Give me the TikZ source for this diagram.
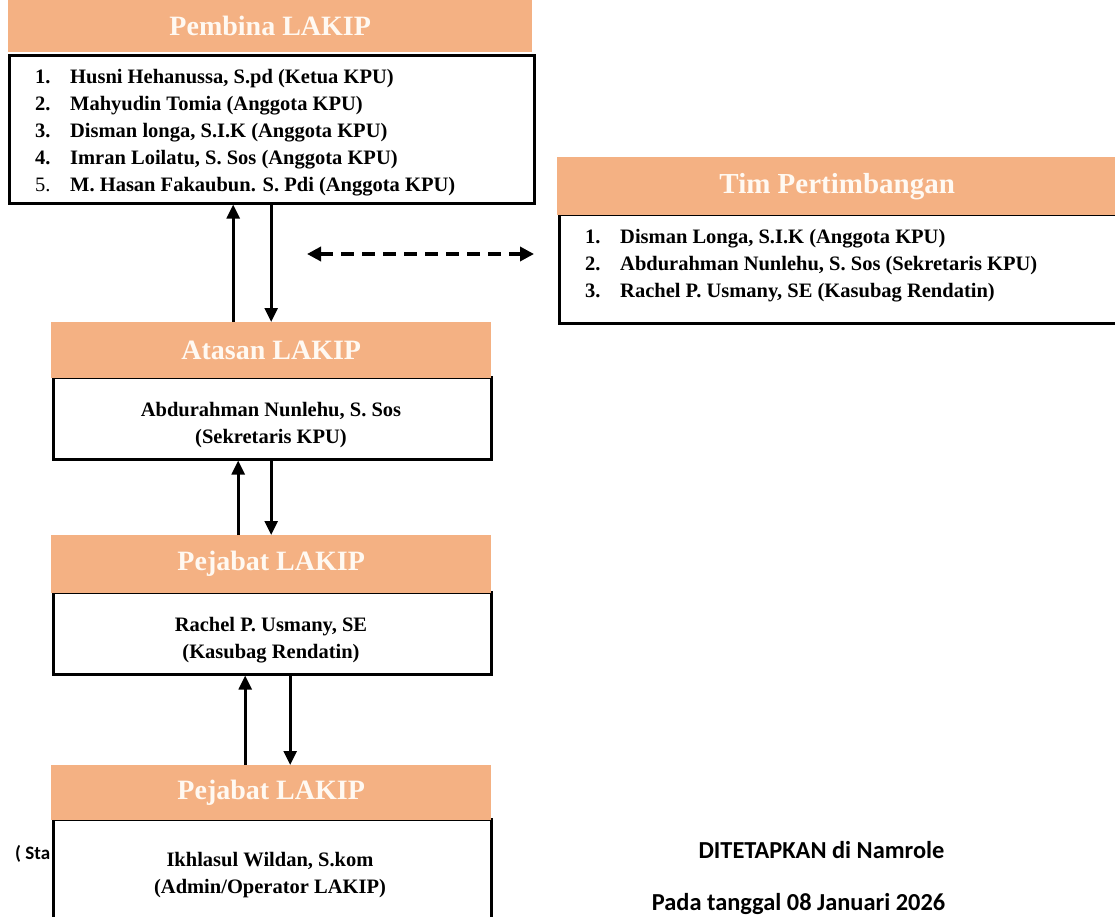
\documentclass[tikz,border=0pt]{standalone}
\usepackage{fontspec}
\setmainfont{Liberation Serif}
\newfontfamily\calfont{Carlito}
\usetikzlibrary{arrows.meta}
\definecolor{hdrc}{HTML}{F4B183}
\definecolor{ttlc}{HTML}{FFF9F2}
\begin{document}
\begin{tikzpicture}[x=1pt,y=-1pt,
  hdr/.style={fill=hdrc, text=ttlc, inner sep=0pt, anchor=north west,
    font=\bfseries\fontsize{28}{30}\selectfont},
  bodybox/.style={draw, line width=2.6pt, inner sep=0pt, anchor=north west},
  txt/.style={inner sep=0pt, font=\bfseries\fontsize{20.5}{27}\selectfont},
  arr/.style={line width=2.6pt, -{Triangle[length=14pt,width=13pt]}},
  darr/.style={line width=3.4pt, dash pattern=on 13pt off 8pt,
    {Triangle[length=14pt,width=14pt]}-{Triangle[length=14pt,width=14pt]}},
  foot/.style={inner sep=0pt, anchor=base, font=\calfont\bfseries\fontsize{24.4}{28}\selectfont}
]
\useasboundingbox (0,0) rectangle (1115,917);
\fill[white] (0,0) rectangle (1115,917);

% ---------- texts ----------
\node[txt, anchor=north west] (pembT) at (35,64.6) {%
  \begin{tabular}{@{}p{35pt}@{}l@{}}
  1. & Husni Hehanussa, S.pd (Ketua KPU)\\
  2. & Mahyudin Tomia (Anggota KPU)\\
  3. & Disman longa, S.I.K (Anggota KPU)\\
  4. & Imran Loilatu, S. Sos (Anggota KPU)\\
  \mdseries 5. & M. Hasan Fakaubun. S. Pdi (Anggota KPU)
  \end{tabular}};
\node[txt, anchor=north west] (timT) at (585,224.6) {%
  \begin{tabular}{@{}p{35pt}@{}l@{}}
  1. & Disman Longa, S.I.K (Anggota KPU)\\
  2. & Abdurahman Nunlehu, S. Sos (Sekretaris KPU)\\
  3. & Rachel P. Usmany, SE (Kasubag Rendatin)
  \end{tabular}};
\node[txt] (atasanT) at (271,425) {%
  \begin{tabular}{@{}c@{}}Abdurahman Nunlehu, S. Sos\\(Sekretaris KPU)\end{tabular}};
\node[txt] (pejT) at (271,640) {%
  \begin{tabular}{@{}c@{}}Rachel P. Usmany, SE\\(Kasubag Rendatin)\end{tabular}};
\node[txt] (pej2T) at (270,875) {%
  \begin{tabular}{@{}c@{}}Ikhlasul Wildan, S.kom\\(Admin/Operator LAKIP)\end{tabular}};

% ---------- boxes ----------
\node[bodybox, minimum width=525pt, minimum height=148pt] (pembB) at (8,54) {};
\node[hdr, minimum width=524pt, minimum height=52pt] (pembH) at (8,0) {Pembina LAKIP};

\node[bodybox, minimum width=570pt, minimum height=109pt] (timB) at (558,213) {};
\node[hdr, minimum width=560pt, minimum height=58pt,
  font=\bfseries\fontsize{29}{31}\selectfont] (timH) at (557,157) {Tim Pertimbangan};

\node[bodybox, minimum width=438pt, minimum height=82pt] (atasanB) at (52,376) {};
\node[hdr, minimum width=440pt, minimum height=56pt] (atasanH) at (51,322) {Atasan LAKIP};

\node[bodybox, minimum width=438pt, minimum height=82pt] (pejB) at (52,591) {};
\node[hdr, minimum width=440pt, minimum height=58pt] (pejH) at (51,535) {Pejabat LAKIP};

\node[bodybox, minimum width=438pt, minimum height=110pt] (pej2B) at (52,818) {};
\node[hdr, minimum width=440pt, minimum height=55pt] (pej2H) at (51,765) {Pejabat LAKIP};

% ---------- connectors ----------
\draw[arr] ([xshift=-38pt]atasanH.north) -- ([xshift=-38pt]atasanH.north |- pembB.south);
\draw[arr] (atasanH.north |- pembB.south) -- (atasanH.north);

\draw[arr] ([xshift=-33pt]pejH.north) -- ([xshift=-33pt]pejH.north |- atasanB.south);
\draw[arr] (pejH.north |- atasanB.south) -- (pejH.north);

\draw[arr] ([xshift=-26pt]pej2H.north) -- ([xshift=-26pt]pej2H.north |- pejB.south);
\draw[arr] ([xshift=19pt]pej2H.north |- pejB.south) -- ([xshift=19pt]pej2H.north);

\coordinate (dl) at (307,254);
\coordinate (dr) at (534,254);
\draw[darr] (dl) -- (dr);

% ---------- footer texts ----------
\node[foot, font=\calfont\bfseries\fontsize{19}{22}\selectfont, anchor=base west] (sta) at (15,859) {( Sta};
\node[foot] (ditetapkan) at (821.5,858) {DITETAPKAN di Namrole};
\node[foot] (pada) at (798.5,910) {Pada tanggal 08 Januari 2026};
\end{tikzpicture}
\end{document}
